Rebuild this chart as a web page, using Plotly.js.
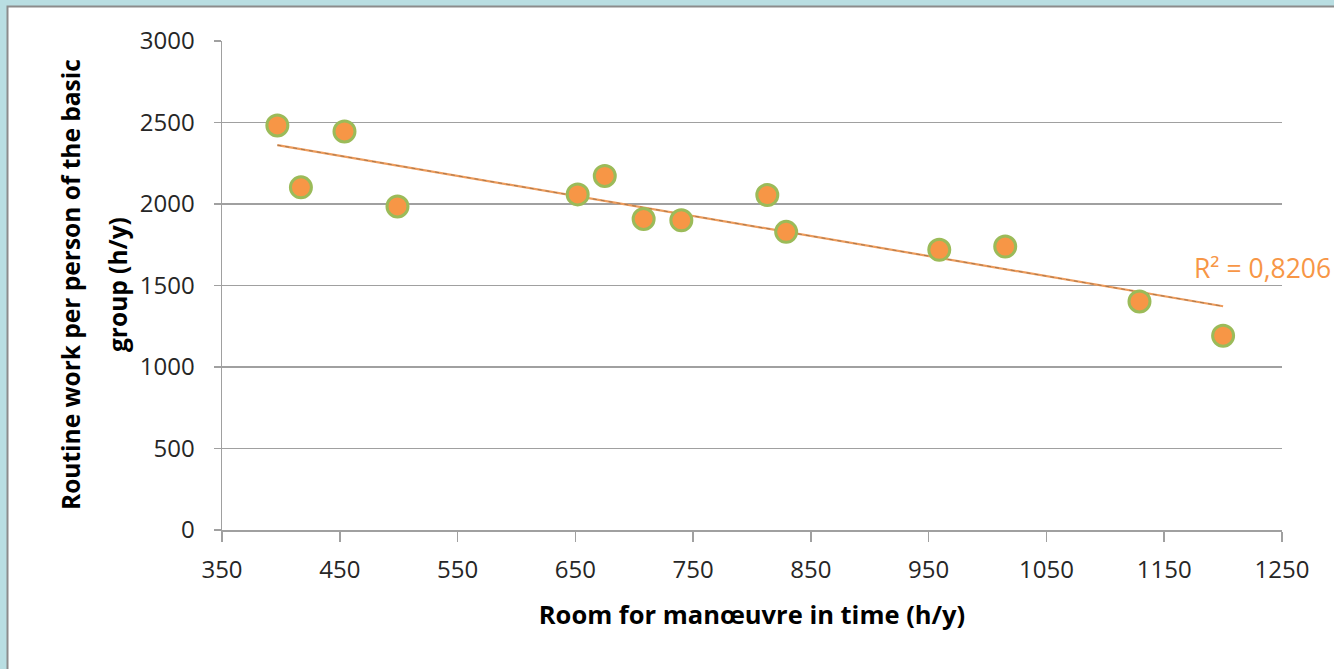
<!DOCTYPE html>
<html>
<head>
<meta charset="utf-8">
<script src="https://cdn.plot.ly/plotly-3.0.1.min.js"></script>
<style>html,body{margin:0;padding:0;background:#b9dee2;}#chart{width:1334px;height:669px;}</style>
</head>
<body>
<div id="chart"></div>
<script>
// Data
const roomForManoeuvre = [397, 417, 454, 499, 652, 675, 708, 740, 813, 829, 959, 1015, 1129, 1200];
const routineWork = [2482, 2102, 2445, 1985, 2059, 2172, 1908, 1900, 2055, 1829, 1719, 1739, 1402, 1192];
const xTickVals = [350, 450, 550, 650, 750, 850, 950, 1050, 1150, 1250];
const yTickVals = [0, 500, 1000, 1500, 2000, 2500, 3000];
const r2Label = "R² = 0,8206";
const xTitle = "Room for manœuvre in time (h/y)";
const yTitleLine1 = "Routine work per person of the basic";
const yTitleLine2 = "group (h/y)";

// Linear least-squares trendline (as in the spreadsheet)
const n = roomForManoeuvre.length;
const mx = roomForManoeuvre.reduce((a, b) => a + b, 0) / n;
const my = routineWork.reduce((a, b) => a + b, 0) / n;
let sxy = 0, sxx = 0;
for (let i = 0; i < n; i++) {
  sxy += (roomForManoeuvre[i] - mx) * (routineWork[i] - my);
  sxx += (roomForManoeuvre[i] - mx) ** 2;
}
const slope = sxy / sxx;
const intercept = my - slope * mx;
const xMin = Math.min(...roomForManoeuvre), xMax = Math.max(...roomForManoeuvre);
const trendX = [xMin, xMax];
const trendY = trendX.map(v => intercept + slope * v);

const font = "'Open Sans', sans-serif";

const traces = [
  {x: trendX, y: trendY, mode: 'lines', line: {color: '#ee9c5c', width: 2.2}, hoverinfo: 'skip', showlegend: false},
  {x: trendX, y: trendY, mode: 'lines', line: {color: '#a8784e', width: 1, dash: '4px,4px'}, hoverinfo: 'skip', showlegend: false},
  {x: roomForManoeuvre, y: routineWork, mode: 'markers', type: 'scatter',
   marker: {size: 21, color: '#f79646', line: {color: '#9bbb59', width: 3}}, showlegend: false}
];

const gridColor = '#a0a0a0';
const layout = {
  width: 1334, height: 669,
  margin: {l: 222, r: 52, t: 41, b: 139},
  paper_bgcolor: '#b9dee2',
  plot_bgcolor: 'rgba(0,0,0,0)',
  font: {family: font, color: '#262626', size: 24},
  showlegend: false,
  xaxis: {
    range: [350, 1250], tickvals: xTickVals, ticktext: xTickVals.map(String),
    showgrid: false, zeroline: false,
    showline: true, linecolor: gridColor, linewidth: 1.5,
    ticks: 'outside', ticklen: 10, tickcolor: gridColor, tickwidth: 1.5,
    tickfont: {family: font, size: 24, color: '#262626'},
    ticklabelstandoff: 8,
    title: {text: '<b>' + xTitle + '</b>', font: {family: font, size: 25.5, color: '#000'}, standoff: 22}
  },
  yaxis: {
    range: [0, 3000], tickvals: yTickVals, ticktext: yTickVals.map(String),
    showgrid: true, gridcolor: gridColor, gridwidth: 1.5, zeroline: false,
    showline: true, linecolor: gridColor, linewidth: 1.5,
    ticks: 'outside', ticklen: 7, tickcolor: gridColor, tickwidth: 1.5,
    tickfont: {family: font, size: 24, color: '#262626'},
    ticklabelstandoff: 14
  },
  shapes: [
    {type: 'rect', xref: 'paper', yref: 'paper', layer: 'below',
     x0: (7.5 - 222) / 1060, x1: (1345 - 222) / 1060,
     y0: (530 - 680) / 489, y1: (530 - 6.5) / 489,
     fillcolor: '#ffffff', line: {color: '#8c8c8c', width: 2}}
  ],
  annotations: [
    {xref: 'paper', yref: 'paper', x: (70 - 222) / 1060, y: (530 - 285) / 489,
     text: '<b>' + yTitleLine1 + '</b>', textangle: -90, showarrow: false,
     xanchor: 'center', yanchor: 'middle', font: {family: font, size: 24.5, color: '#000'}},
    {xref: 'paper', yref: 'paper', x: (117 - 222) / 1060, y: (530 - 285) / 489,
     text: '<b>' + yTitleLine2 + '</b>', textangle: -90, showarrow: false,
     xanchor: 'center', yanchor: 'middle', font: {family: font, size: 24.5, color: '#000'}},
    {xref: 'paper', yref: 'paper', x: (1192 - 222) / 1060, y: (530 - 268) / 489,
     text: r2Label, showarrow: false, xanchor: 'left', yanchor: 'middle',
     font: {family: font, size: 26.5, color: '#f79646'}}
  ]
};

Plotly.newPlot('chart', traces, layout, {displayModeBar: false, staticPlot: true});
</script>
</body>
</html>
